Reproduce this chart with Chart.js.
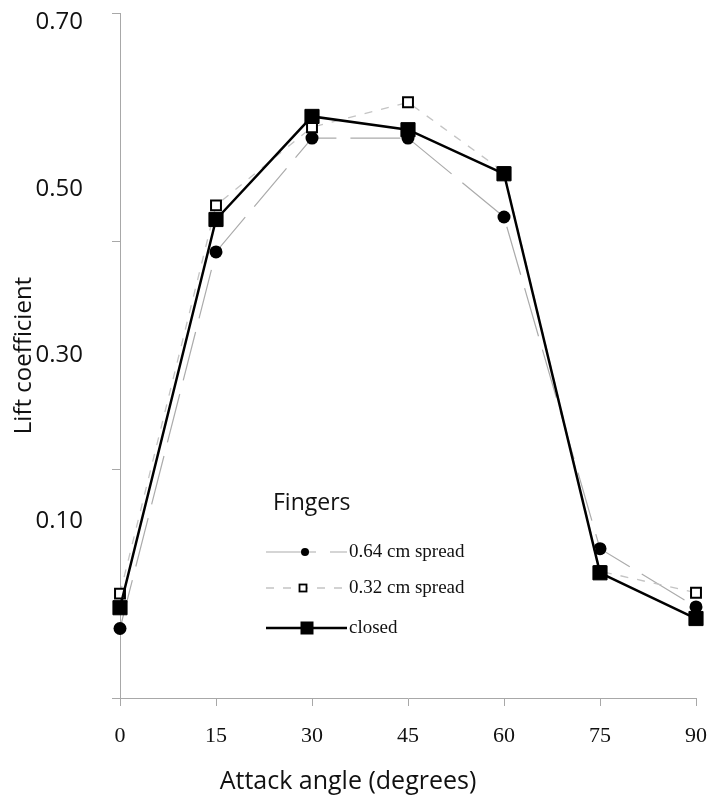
<!DOCTYPE html>
<html><head><meta charset="utf-8">
<script src="https://cdn.jsdelivr.net/npm/chart.js@4.4.1/dist/chart.umd.min.js"></script>
<style>html,body{margin:0;padding:0;background:#fff}#wrap{width:710px;height:800px}</style>
</head><body><div id="wrap"><canvas id="c" width="710" height="800"></canvas></div>
<script>
// ---- data ----
const angles = [0, 15, 30, 45, 60, 75, 90];
const spread064 = [-0.029, 0.424, 0.561, 0.561, 0.466, 0.067, -0.003];
const spread032 = [0.013, 0.480, 0.574, 0.604, 0.520, 0.040, 0.014];
const closedHand = [-0.004, 0.463, 0.587, 0.571, 0.518, 0.038, -0.017];
const yTickLabels = [0.10, 0.30, 0.50, 0.70];
const seriesNames = ['0.64 cm spread', '0.32 cm spread', 'closed'];
const legendTitle = 'Fingers';
const xTitle = 'Attack angle (degrees)';
const yTitle = 'Lift coefficient';

const pts = arr => angles.map((a, i) => ({x: a, y: arr[i]}));

const legendPlugin = {
  id: 'fingersLegend',
  afterDatasetsDraw(chart) {
    const ctx = chart.ctx;
    ctx.save();
    ctx.textBaseline = 'middle';
    ctx.textAlign = 'left';
    ctx.fillStyle = '#111';
    ctx.font = '23px "Open Sans"';
    ctx.fillText(legendTitle, 273, 503);
    const rows = [552, 588, 628];
    const mx = [305, 303, 307];
    const mk = [
      {type: 'circle', r: 4},
      {type: 'open', s: 7},
      {type: 'fill', s: 13}
    ];
    chart.data.datasets.forEach((ds, i) => {
      const y = rows[i];
      ctx.beginPath();
      ctx.setLineDash(ds.borderDash || []);
      ctx.lineWidth = ds.borderWidth;
      ctx.strokeStyle = ds.borderColor;
      ctx.moveTo(266, y); ctx.lineTo(347, y); ctx.stroke();
      ctx.setLineDash([]);
      const m = mk[i];
      ctx.fillStyle = '#000';
      if (m.type === 'circle') {
        ctx.beginPath(); ctx.arc(mx[i], y, m.r, 0, Math.PI * 2); ctx.fill();
      } else if (m.type === 'open') {
        ctx.fillStyle = '#fff';
        ctx.fillRect(mx[i] - m.s / 2, y - m.s / 2, m.s, m.s);
        ctx.lineWidth = 1.8; ctx.strokeStyle = '#000';
        ctx.strokeRect(mx[i] - m.s / 2, y - m.s / 2, m.s, m.s);
      } else {
        ctx.fillRect(mx[i] - m.s / 2, y - m.s / 2, m.s, m.s);
      }
      ctx.fillStyle = '#111';
      ctx.font = '19px "Liberation Serif"';
      ctx.fillText(ds.label, 349, y);
    });
    ctx.restore();
  }
};

const noPad = s => { s.paddingTop = 0; s.paddingBottom = 0; s.paddingLeft = 0; s.paddingRight = 0; };

new Chart(document.getElementById('c'), {
  type: 'line',
  data: {
    datasets: [
      {
        label: seriesNames[0], data: pts(spread064), order: 2, clip: false,
        borderColor: '#ababab', borderWidth: 1.2, borderDash: [50, 14],
        pointStyle: 'circle', pointRadius: 6.5, pointBackgroundColor: '#000',
        pointBorderColor: '#000', pointBorderWidth: 0, tension: 0
      },
      {
        label: seriesNames[1], data: pts(spread032), order: 1, clip: false,
        borderColor: '#c4c4c4', borderWidth: 1.3, borderDash: [8, 9],
        pointStyle: 'rect', pointRadius: 7, pointBackgroundColor: '#fff',
        pointBorderColor: '#000', pointBorderWidth: 2, tension: 0
      },
      {
        label: seriesNames[2], data: pts(closedHand), order: 0, clip: false,
        borderColor: '#000', borderWidth: 2.5,
        pointStyle: 'rect', pointRadius: 10, pointBackgroundColor: '#000',
        pointBorderColor: '#000', pointBorderWidth: 1, tension: 0
      }
    ]
  },
  options: {
    responsive: false,
    animation: false,
    events: [],
    layout: {padding: {top: 13, right: 14, left: 0, bottom: 0}},
    plugins: {
      legend: {display: false},
      tooltip: {enabled: false},
      title: {
        display: true, position: 'bottom', text: xTitle, color: '#111',
        font: {family: 'Open Sans', size: 25, weight: 'normal'},
        padding: {top: 18, bottom: 3}
      }
    },
    scales: {
      x: {
        type: 'linear', min: 0, max: 90,
        afterFit: s => { s.height = 51; noPad(s); },
        ticks: {stepSize: 15, color: '#111', padding: 17,
          font: {family: 'Liberation Serif', size: 22}},
        grid: {display: true, drawOnChartArea: false, drawTicks: true, tickLength: 8, color: '#a8a8a8'},
        border: {display: true, color: '#a8a8a8', width: 1}
      },
      y: {
        type: 'linear', position: 'left', weight: 10,
        min: -0.1126, max: 0.7114,
        afterBuildTicks: s => { s.ticks = yTickLabels.map(v => ({value: v})); },
        afterFit: s => { s.width = 112; noPad(s); },
        ticks: {color: '#111', padding: 21, font: {family: 'Open Sans', size: 24},
          callback: v => Number(v).toFixed(2)},
        grid: {display: false},
        border: {display: false},
        title: {display: true, text: yTitle, color: '#111',
          font: {family: 'Open Sans', size: 24}, padding: {top: 10, bottom: 0}}
      },
      yT: {
        type: 'linear', position: 'left', weight: 0,
        min: 0.1, max: 0.7,
        afterFit: s => { s.width = 8; noPad(s); },
        ticks: {display: false, stepSize: 0.2},
        grid: {display: true, drawOnChartArea: false, drawTicks: true, tickLength: 8, color: '#a8a8a8'},
        border: {display: true, color: '#a8a8a8', width: 1}
      }
    }
  },
  plugins: [legendPlugin]
});
</script>
</body></html>
